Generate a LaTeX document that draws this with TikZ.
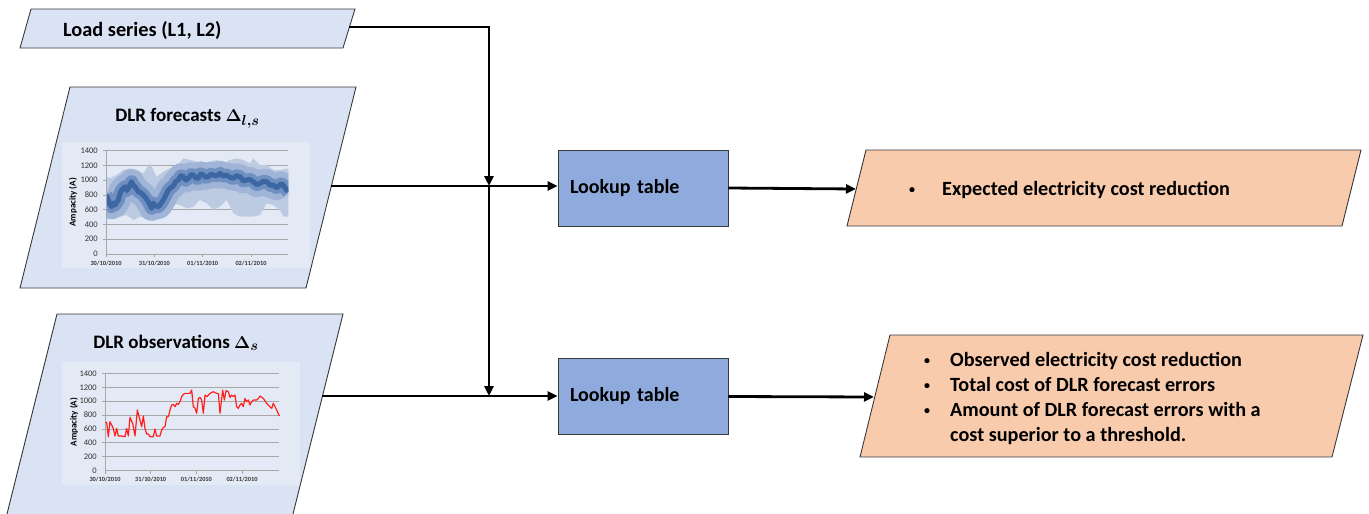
\documentclass[tikz,border=0pt]{standalone}
\usepackage{fontspec}
\setmainfont{Carlito}
\usetikzlibrary{arrows.meta,calc}

\definecolor{inputfill}{HTML}{DAE3F3}
\definecolor{chartbg}{HTML}{E3EAF5}
\definecolor{tablefill}{HTML}{8FAADC}
\definecolor{outfill}{HTML}{F8CBAD}
\definecolor{edgec}{HTML}{3A3A3A}
\definecolor{gridc}{HTML}{A8A8A8}
\definecolor{labc}{HTML}{333333}
\definecolor{bandA}{HTML}{BDCBE2}
\definecolor{bandB}{HTML}{9FB4D6}
\definecolor{bandC}{HTML}{7090C2}
\definecolor{bandD}{HTML}{3D67A3}
\definecolor{obsred}{HTML}{FF1F1F}

% small list bullet
\newcommand{\smallbullet}{{\fontsize{12}{12}\selectfont\raisebox{2pt}{\textbullet}}}

\begin{document}
\begin{tikzpicture}[x=1pt,y=-1pt,
  inbox/.style={fill=inputfill,draw=edgec,line width=0.9pt},
  outbox/.style={fill=outfill,draw=edgec,line width=0.9pt},
  lookup/.style={rectangle,fill=tablefill,draw=edgec,line width=0.9pt,
    minimum width=170pt,minimum height=76pt,text width=146pt,inner xsep=12pt,
    align=left,font=\fontsize{20}{24}\selectfont\bfseries},
  flow/.style={line width=2.8pt,-{Triangle[length=10pt,width=9pt]}},
  bigtext/.style={inner sep=0pt,font=\fontsize{20.3}{24}\selectfont\bfseries},
  titletext/.style={inner sep=0pt,font=\fontsize{19}{23}\selectfont\bfseries},
  outtext/.style={inner sep=0pt,align=left,font=\fontsize{20.2}{25}\selectfont\bfseries},
  gridline/.style={draw=gridc,line width=0.9pt},
  axisline/.style={draw=gridc,line width=0.8pt},
  ticklab/.style={inner sep=0pt,text=labc,font=\fontsize{8.5}{9}\selectfont},
  datelab/.style={inner sep=0pt,text=labc,font=\fontsize{6.3}{7}\selectfont\bfseries},
  axtitle/.style={inner sep=0pt,text=black,font=\fontsize{9}{10}\selectfont\bfseries},
]
\useasboundingbox (0,0) rectangle (1369,514);

% ---------- input parallelograms ----------
\draw[inbox] (31,9) -- (355,9) -- (343,48) -- (20,48) -- cycle;
\node[bigtext,anchor=base west] (loadtxt) at (63,36) {Load series (L1, L2)};
\coordinate (loadR) at (349,27);

\draw[inbox] (70,87) -- (356,87) -- (306,288) -- (20,288) -- cycle;
\coordinate (fcR) at (331,186);

\draw[inbox] (57,314) -- (343,314) -- (292,518) -- (6,518) -- cycle;
\coordinate (obR) at (322,396);

% ---------- forecast chart ----------
\fill[chartbg] (62,142) rectangle (310,268);
\node[titletext,anchor=base] (fctitle) at (187.5,121.7) {DLR forecasts {\boldmath$\Delta_{l,s}$}};
\begin{scope}[xshift=106pt,yshift=-254pt,x=48.33pt,y=0.07381pt]
  \def\fcmed{(0,800) -- (0.035,760) -- (0.069,686) -- (0.117,641) -- (0.150,690) -- (0.186,664) -- (0.255,732) -- (0.290,820) -- (0.324,867) -- (0.393,912) -- (0.430,860) -- (0.462,890) -- (0.531,980) -- (0.565,930) -- (0.600,912) -- (0.669,844) -- (0.720,830) -- (0.772,800) -- (0.820,760) -- (0.876,709) -- (0.945,619) -- (0.980,690) -- (1.014,664) -- (1.060,640) -- (1.103,650) -- (1.186,732) -- (1.240,800) -- (1.290,867) -- (1.340,900) -- (1.393,921) -- (1.440,980) -- (1.497,1002) -- (1.550,1060) -- (1.600,1048) -- (1.650,1000) -- (1.703,1025) -- (1.760,1075) -- (1.807,1070) -- (1.860,1030) -- (1.910,1025) -- (1.960,1085) -- (2.014,1070) -- (2.060,1040) -- (2.117,1048) -- (2.170,1080) -- (2.221,1070) -- (2.290,1060) -- (2.359,1093) -- (2.420,1055) -- (2.497,1070) -- (2.560,1040) -- (2.634,1025) -- (2.700,1060) -- (2.772,1048) -- (2.840,990) -- (2.910,1002) -- (2.980,1010) -- (3.048,980) -- (3.120,940) -- (3.186,957) -- (3.250,985) -- (3.324,980) -- (3.400,930) -- (3.462,935) -- (3.520,900) -- (3.566,912) -- (3.620,950) -- (3.669,935) -- (3.720,880) -- (3.772,844)}
  \foreach \v in {200,400,...,1400}
    \draw[gridline] ([xshift=-3pt]0,\v) -- (3.77,\v);
  % outer quantile band
  \fill[bandA] (0,1048) -- (0.083,1025) -- (0.221,1070) -- (0.359,1138) -- (0.497,1161) -- (0.634,1138) -- (0.772,1093) -- (0.910,1228) -- (1.048,1048) -- (1.186,1115) -- (1.324,1161) -- (1.462,1183) -- (1.600,1296) -- (1.738,1274) -- (1.876,1251) -- (2.014,1228) -- (2.152,1251) -- (2.290,1274) -- (2.428,1228) -- (2.566,1274) -- (2.703,1296) -- (2.841,1274) -- (2.979,1228) -- (3.048,1296) -- (3.186,1206) -- (3.324,1206) -- (3.462,1138) -- (3.600,1138) -- (3.772,1161)
    -- (3.772,506) -- (3.669,506) -- (3.600,596) -- (3.462,664) -- (3.324,686) -- (3.186,528) -- (3.048,506) -- (2.910,506) -- (2.772,506) -- (2.634,551) -- (2.497,732) -- (2.359,641) -- (2.221,596) -- (2.083,686) -- (1.945,732) -- (1.807,641) -- (1.669,619) -- (1.531,664) -- (1.393,686) -- (1.255,551) -- (1.117,483) -- (0.979,461) -- (0.841,483) -- (0.703,506) -- (0.566,461) -- (0.428,528) -- (0.290,506) -- (0.152,483) -- (0,506) -- cycle;
  % inner quantile bands around the median
  \begin{scope}
    \clip (0,0) rectangle (3.772,1400);
    \draw[bandB,line width=25pt,line join=round] \fcmed;
    \draw[bandC,line width=13pt,line join=round] \fcmed;
    \draw[bandD,line width=5pt,line join=round] \fcmed;
  \end{scope}
  \draw[axisline] (0,0) -- (0,1400);
  \draw[axisline] (0,0) -- (3.77,0);
  \foreach \d in {0,1,2,3}
    \draw[axisline] (\d,0) -- ++(0pt,-3pt);
  \foreach \v in {0,200,...,1400}
    \node[ticklab,anchor=east] (fy\v) at ([xshift=-8pt]0,\v) {\v};
  \node[datelab] (fd0) at ([yshift=-9pt]0,0) {30/10/2010};
  \node[datelab] (fd1) at ([yshift=-9pt]1,0) {31/10/2010};
  \node[datelab] (fd2) at ([yshift=-9pt]2,0) {01/11/2010};
  \node[datelab] (fd3) at ([yshift=-9pt]3,0) {02/11/2010};
  \node[axtitle,rotate=90] (fyt) at ([xshift=-33pt]0,700) {Ampacity (A)};
\end{scope}

% ---------- observation chart ----------
\fill[chartbg] (62,362) rectangle (300,485);
\node[titletext,anchor=base] (obtitle) at (176,348.3) {DLR observations {\boldmath$\Delta_{s}$}};
\begin{scope}[xshift=105pt,yshift=-470.7pt,x=45.67pt,y=0.06952pt]
  \foreach \v in {200,400,...,1400}
    \draw[gridline] ([xshift=-3pt]0,\v) -- (3.82,\v);
  \draw[axisline] (0,0) -- (0,1400);
  \draw[axisline] (0,0) -- (3.82,0);
  \foreach \d in {0,1,2,3}
    \draw[axisline] (\d,0) -- ++(0pt,-3pt);
  \draw[obsred,line width=1.2pt,line join=round]
    (0,695) -- (0.036,695) -- (0.073,489) -- (0.109,705) -- (0.182,609) -- (0.219,499) -- (0.255,609) -- (0.292,499) -- (0.365,499) -- (0.438,489) -- (0.474,609) -- (0.511,499) -- (0.547,767) -- (0.606,681) -- (0.657,499) -- (0.708,873) -- (0.766,729) -- (0.803,633) -- (0.839,786) -- (0.876,609) -- (0.912,527) -- (0.949,527) -- (0.985,489) -- (1.058,489) -- (1.095,599) -- (1.131,499) -- (1.204,499) -- (1.241,585) -- (1.277,623) -- (1.314,633) -- (1.350,777) -- (1.387,777) -- (1.423,873) -- (1.460,945) -- (1.496,954) -- (1.533,921) -- (1.569,969) -- (1.606,954) -- (1.642,993) -- (1.679,1064) -- (1.715,1098) -- (1.752,1112) -- (1.825,1112) -- (1.861,1112) -- (1.898,1160) -- (1.934,921) -- (1.971,897) -- (2.007,825) -- (2.044,1040) -- (2.080,1055) -- (2.117,1016) -- (2.153,825) -- (2.190,1088) -- (2.226,1064) -- (2.263,1088) -- (2.299,1112) -- (2.372,1136) -- (2.445,1112) -- (2.482,1112) -- (2.518,825) -- (2.555,1040) -- (2.577,1160) -- (2.613,1016) -- (2.650,1151) -- (2.701,1136) -- (2.737,1055) -- (2.774,1088) -- (2.810,1064) -- (2.847,1088) -- (2.883,921) -- (2.920,897) -- (2.956,945) -- (2.993,969) -- (3.029,921) -- (3.066,1040) -- (3.102,993) -- (3.139,1016) -- (3.175,945) -- (3.212,993) -- (3.248,1016) -- (3.321,1016) -- (3.358,1040) -- (3.394,1074) -- (3.467,1040) -- (3.540,969) -- (3.613,921) -- (3.650,897) -- (3.686,969) -- (3.723,921) -- (3.759,873) -- (3.818,786);
  \foreach \v in {0,200,...,1400}
    \node[ticklab,anchor=east] (oy\v) at ([xshift=-8pt]0,\v) {\v};
  \node[datelab] (od0) at ([yshift=-9pt]0,0) {30/10/2010};
  \node[datelab] (od1) at ([yshift=-9pt]1,0) {31/10/2010};
  \node[datelab] (od2) at ([yshift=-9pt]2,0) {01/11/2010};
  \node[datelab] (od3) at ([yshift=-9pt]3,0) {02/11/2010};
  \node[axtitle,rotate=90] (oyt) at ([xshift=-31pt]0,700) {Ampacity (A)};
\end{scope}

% ---------- lookup tables ----------
\node[lookup] (lt1) at (643,188) {Lookup table};
\node[lookup] (lt2) at (643,396.5) {Lookup table};

% ---------- output parallelograms ----------
\draw[outbox] (866,150) -- (1361,150) -- (1342,226) -- (847,226) -- cycle;
\coordinate (o1L) at (856,189);
\node[outtext,anchor=base west] (o1txt) at (909,195)
  {\begin{tabular}[t]{@{}p{33pt}@{}l@{}}\smallbullet & Expected electricity cost reduction\end{tabular}};

\draw[outbox] (890,335) -- (1363,335) -- (1332,457) -- (860,457) -- cycle;
\coordinate (o2L) at (874,397);
\node[outtext,anchor=base west] (o2txt) at (924,366)
  {\begin{tabular}[t]{@{}p{26pt}@{}l@{}}
   \smallbullet & Observed electricity cost reduction\\
   \smallbullet & Total cost of DLR forecast errors\\
   \smallbullet & Amount of DLR forecast errors with a\\
                & cost superior to a threshold.
   \end{tabular}};

% ---------- connectors ----------
\coordinate (jA) at (489,186);
\coordinate (jB) at (489,396);
\draw[flow] (loadR) -| (jA);
\draw[flow] (jA) -- (jB);
\draw[flow] (fcR) -- (fcR -| lt1.west);
\draw[flow] (obR) -- (obR -| lt2.west);
\draw[flow] (lt1.east) -- (o1L);
\draw[flow] (lt2.east) -- (o2L);
\end{tikzpicture}
\end{document}
